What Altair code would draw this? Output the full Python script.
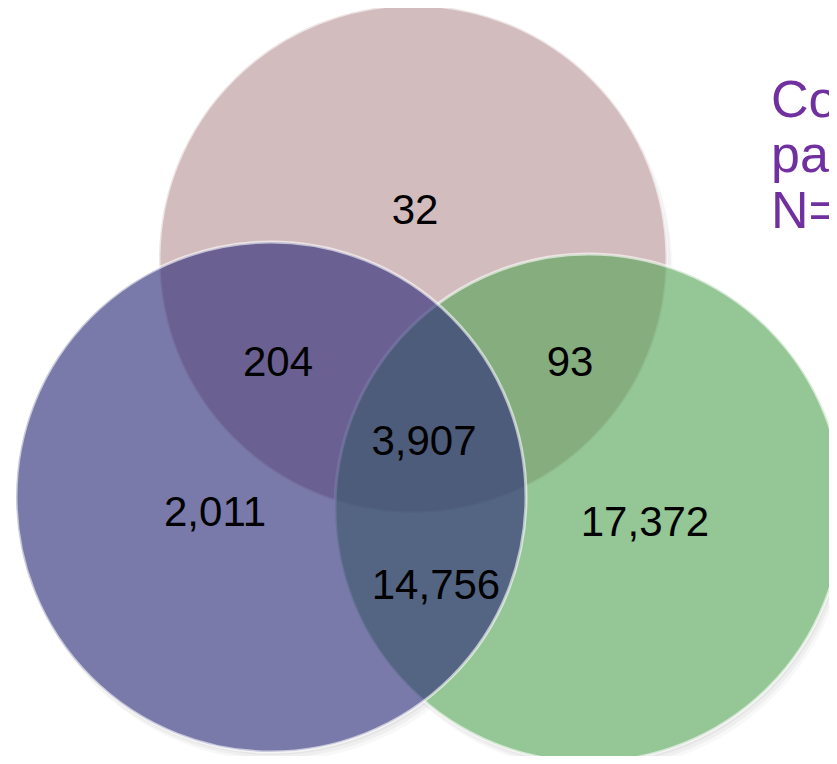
import altair as alt
import pandas as pd

# ---- data ----
set_names = ["Top set", "Right set", "Left set"]
set_colors = ["#b99598", "#57a557", "#2d2d79"]

region_names = ["Top only", "Top & Left", "Top & Right", "All three",
                "Left only", "Right only", "Left & Right"]
region_counts = [32, 204, 93, 3907, 2011, 17372, 14756]

note_lines = ["Counts of", "participants", "N=4"]

# ---- layout (pixel geometry of the diagram) ----
circle_cx = [413, 589, 271]
circle_cy = [259, 508, 497]
circle_d = [508, 508, 510]

label_x = [415, 278, 570, 424, 215, 645, 436]
label_y = [211, 363, 363, 442, 513, 523, 586]

note_x = [771, 771, 771]
note_y = [117, 172, 228]

XS = alt.Scale(domain=[8, 829], nice=False, zero=False)
YS = alt.Scale(domain=[756, 8], nice=False, zero=False)

circles = pd.DataFrame({
    "set": set_names,
    "px": circle_cx,
    "py": circle_cy,
    "area": [d * d for d in circle_d],
    "z": [0, 1, 2],
})

shadows = []
for off, op in [(3, 0.06), (6, 0.05), (9, 0.04)]:
    for s, x, y, d in zip(set_names, circle_cx, circle_cy, circle_d):
        shadows.append({"set": s, "px": x + off * 0.6, "py": y + off, "area": d * d, "op": op})
shadows = pd.DataFrame(shadows)

labels = pd.DataFrame({
    "region": region_names,
    "count": region_counts,
    "px": label_x,
    "py": label_y,
})

notes = pd.DataFrame({"line": note_lines, "px": note_x, "py": note_y})

shadow_layer = alt.Chart(shadows).mark_circle(color="#555555").encode(
    x=alt.X("px:Q", scale=XS, axis=None),
    y=alt.Y("py:Q", scale=YS, axis=None),
    size=alt.Size("area:Q", scale=None, legend=None),
    opacity=alt.Opacity("op:Q", scale=None, legend=None),
)

# opaque white discs so the shadows only show outside the circles
white_layer = alt.Chart(circles).mark_circle(color="#ffffff", opacity=1).encode(
    x=alt.X("px:Q", scale=XS, axis=None),
    y=alt.Y("py:Q", scale=YS, axis=None),
    size=alt.Size("area:Q", scale=None, legend=None),
)

circle_layer = alt.Chart(circles).mark_circle(
    opacity=1, fillOpacity=0.63, stroke="#ffffff", strokeOpacity=0.6, strokeWidth=3
).encode(
    x=alt.X("px:Q", scale=XS, axis=None),
    y=alt.Y("py:Q", scale=YS, axis=None),
    size=alt.Size("area:Q", scale=None, legend=None),
    fill=alt.Fill("set:N", scale=alt.Scale(domain=set_names, range=set_colors), legend=None),
    order=alt.Order("z:Q"),
)

label_layer = alt.Chart(labels).mark_text(
    font="Liberation Sans", fontSize=42, color="#000000", align="center", baseline="middle"
).encode(
    x=alt.X("px:Q", scale=XS, axis=None),
    y=alt.Y("py:Q", scale=YS, axis=None),
    text=alt.Text("count:Q", format=",d"),
)

note_layer = alt.Chart(notes).mark_text(
    font="Liberation Sans", fontSize=52, color="#7030a0", align="left", baseline="alphabetic"
).encode(
    x=alt.X("px:Q", scale=XS, axis=None),
    y=alt.Y("py:Q", scale=YS, axis=None),
    text="line:N",
)

chart = alt.layer(shadow_layer, white_layer, circle_layer, label_layer, note_layer).properties(
    width=821, height=748, autosize=alt.AutoSizeParams(type="none"), padding=0,
    background="#ffffff",
).configure_view(stroke=None)

chart.save("out.html", embed_options={"renderer": "svg", "actions": False})
